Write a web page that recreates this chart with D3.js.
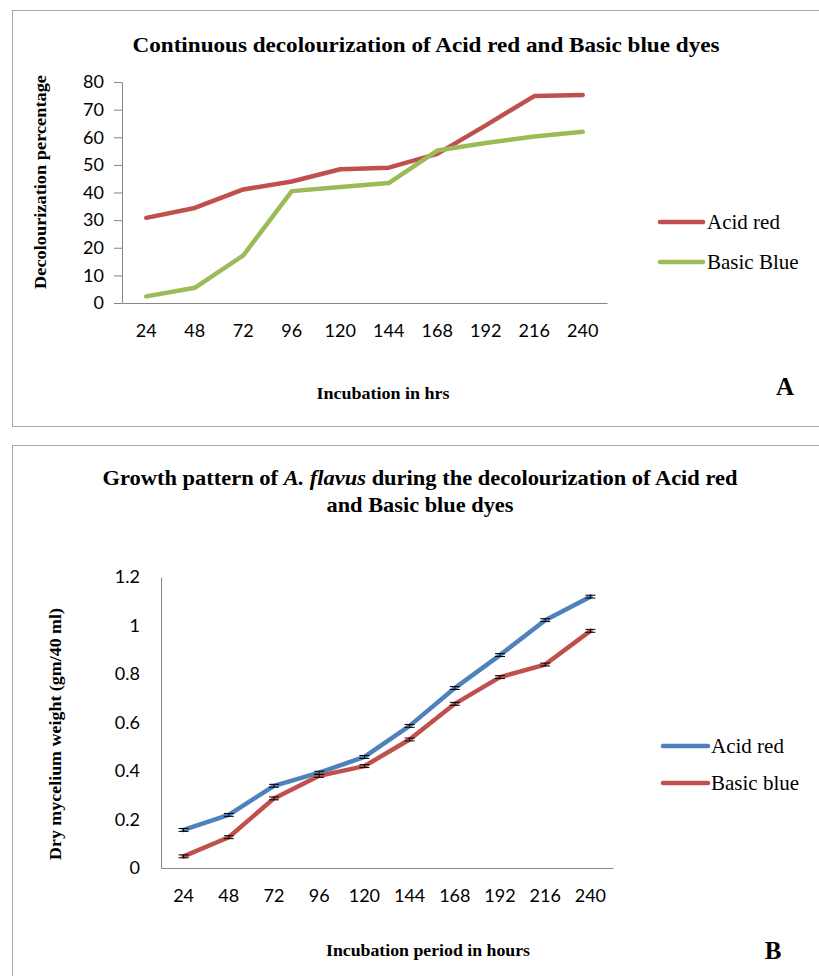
<!DOCTYPE html>
<html>
<head>
<meta charset="utf-8">
<script src="https://cdn.jsdelivr.net/npm/d3@7/dist/d3.min.js"></script>
<style>
  html, body { margin: 0; padding: 0; background: #fff; }
  svg { display: block; }
</style>
</head>
<body>
<svg id="chart" width="819" height="976"></svg>
<script>
// ---------- DATA ----------
const hours = ["24", "48", "72", "96", "120", "144", "168", "192", "216", "240"];

// Panel A: decolourization percentage
const acidRedDecol = [30.8, 34.4, 41.1, 44.0, 48.4, 49.0, 54.0, 64.3, 74.9, 75.3];
const basicBlueDecol = [2.4, 5.5, 17.2, 40.5, 42.0, 43.4, 55.2, 57.9, 60.3, 62.0];
const ticksA = [0, 10, 20, 30, 40, 50, 60, 70, 80];

// Panel B: dry mycelium weight (gm/40 ml)
const acidRedGrowth = [0.157, 0.219, 0.339, 0.393, 0.458, 0.586, 0.742, 0.878, 1.022, 1.119];
const basicBlueGrowth = [0.048, 0.127, 0.287, 0.380, 0.420, 0.530, 0.677, 0.787, 0.839, 0.978];
const acidRedErr = [0.006, 0.006, 0.006, 0.006, 0.006, 0.006, 0.006, 0.006, 0.006, 0.006];
const basicBlueErr = [0.006, 0.006, 0.006, 0.006, 0.006, 0.006, 0.006, 0.006, 0.006, 0.006];
const ticksB = [0, 0.2, 0.4, 0.6, 0.8, 1, 1.2];

// ---------- STYLE ----------
const RED = "#C0504D", GREEN = "#9BBB59", BLUE = "#4F81BD";
const AXIS = "#868686";
const TICKFONT = "Lato, 'Open Sans', sans-serif";
const SERIF = "'Liberation Serif', 'Times New Roman', serif";

const svg = d3.select("#chart");

// panel frames
svg.append("rect").attr("x", 12.5).attr("y", 10.5).attr("width", 830).attr("height", 416)
  .attr("fill", "none").attr("stroke", "#a6a6a6").attr("stroke-width", 1);
svg.append("rect").attr("x", 12.5).attr("y", 445.5).attr("width", 830).attr("height", 560)
  .attr("fill", "none").attr("stroke", "#a6a6a6").attr("stroke-width", 1);

function addText(x, y, str, opts) {
  const t = svg.append("text").attr("x", x).attr("y", y)
    .attr("font-family", opts.family || SERIF)
    .attr("font-size", opts.size)
    .attr("font-weight", opts.weight || "normal")
    .attr("text-anchor", opts.anchor || "middle")
    .attr("dominant-baseline", "central")
    .attr("fill", opts.fill || "#000")
    .text(str);
  if (opts.len) t.attr("textLength", opts.len).attr("lengthAdjust", "spacingAndGlyphs");
  if (opts.rotate) t.attr("transform", `rotate(-90 ${x} ${y})`);
  return t;
}

// ================= PANEL A =================
const xA = d3.scaleBand().domain(hours).range([122, 607]);
const yA = d3.scaleLinear().domain([0, 80]).range([303, 82]);

const yAxisA = svg.append("g").attr("transform", "translate(122,0)")
  .call(d3.axisLeft(yA).tickValues(ticksA).tickSize(8).tickPadding(10).tickSizeOuter(0));
yAxisA.select(".domain").attr("stroke", AXIS);
yAxisA.selectAll(".tick line").attr("stroke", AXIS);
yAxisA.selectAll("text").attr("font-family", TICKFONT).attr("font-size", 18).attr("fill", "#000");

const xAxisA = svg.append("g").attr("transform", "translate(0,303)")
  .call(d3.axisBottom(xA).tickSize(0).tickPadding(21).tickSizeOuter(0));
xAxisA.select(".domain").attr("stroke", AXIS);
xAxisA.selectAll("text").attr("font-family", TICKFONT).attr("font-size", 18).attr("fill", "#000");

const lineA = d3.line().x((d, i) => xA(hours[i]) + xA.bandwidth() / 2).y(d => yA(d));
svg.append("path").datum(acidRedDecol).attr("d", lineA)
  .attr("fill", "none").attr("stroke", RED).attr("stroke-width", 4.5)
  .attr("stroke-linejoin", "round").attr("stroke-linecap", "round");
svg.append("path").datum(basicBlueDecol).attr("d", lineA)
  .attr("fill", "none").attr("stroke", GREEN).attr("stroke-width", 4.5)
  .attr("stroke-linejoin", "round").attr("stroke-linecap", "round");

addText(426, 45, "Continuous decolourization of Acid red and Basic blue dyes", {size: 21, weight: "bold", len: 587});
addText(40, 182, "Decolourization percentage", {size: 17, weight: "bold", rotate: true, len: 214});
addText(383, 393, "Incubation in hrs", {size: 17, weight: "bold", len: 133});
addText(785, 386, "A", {size: 25, weight: "bold"});

// legend A
const legA = [{name: "Acid red", color: RED, y: 222}, {name: "Basic Blue", color: GREEN, y: 262}];
legA.forEach(l => {
  svg.append("line").attr("x1", 660).attr("x2", 703).attr("y1", l.y).attr("y2", l.y)
    .attr("stroke", l.color).attr("stroke-width", 4.5).attr("stroke-linecap", "round");
  addText(707, l.y, l.name, {size: 21, anchor: "start"});
});

// ================= PANEL B =================
const xB = d3.scaleBand().domain(hours).range([161, 613]);
const yB = d3.scaleLinear().domain([0, 1.2]).range([868, 577]);

const yAxisB = svg.append("g").attr("transform", "translate(161,0)")
  .call(d3.axisLeft(yB).tickValues(ticksB).tickSize(0).tickPadding(21).tickSizeOuter(0)
    .tickFormat(d => String(+d.toFixed(1))));
yAxisB.select(".domain").attr("stroke", AXIS);
yAxisB.selectAll("text").attr("font-family", TICKFONT).attr("font-size", 18).attr("fill", "#000");

const xAxisB = svg.append("g").attr("transform", "translate(0,868)")
  .call(d3.axisBottom(xB).tickSize(0).tickPadding(21).tickSizeOuter(0));
xAxisB.select(".domain").attr("stroke", AXIS);
xAxisB.selectAll("text").attr("font-family", TICKFONT).attr("font-size", 18).attr("fill", "#000");

const cx = i => xB(hours[i]) + xB.bandwidth() / 2;
const lineB = d3.line().x((d, i) => cx(i)).y(d => yB(d));

function drawSeriesB(vals, errs, color) {
  svg.append("path").datum(vals).attr("d", lineB)
    .attr("fill", "none").attr("stroke", color).attr("stroke-width", 4.5)
    .attr("stroke-linejoin", "round").attr("stroke-linecap", "round");
  const g = svg.append("g").attr("stroke", "#000").attr("stroke-width", 1);
  vals.forEach((v, i) => {
    const x = cx(i), y1 = yB(v + errs[i]), y2 = yB(v - errs[i]);
    g.append("line").attr("x1", x).attr("x2", x).attr("y1", y1).attr("y2", y2);
    g.append("line").attr("x1", x - 5).attr("x2", x + 5).attr("y1", y1).attr("y2", y1);
    g.append("line").attr("x1", x - 5).attr("x2", x + 5).attr("y1", y2).attr("y2", y2);
  });
}
drawSeriesB(acidRedGrowth, acidRedErr, BLUE);
drawSeriesB(basicBlueGrowth, basicBlueErr, RED);

// titles B
const t1 = svg.append("text").attr("x", 420).attr("y", 478)
  .attr("font-family", SERIF).attr("font-size", 21).attr("font-weight", "bold")
  .attr("text-anchor", "middle").attr("dominant-baseline", "central")
  .attr("textLength", 635).attr("lengthAdjust", "spacingAndGlyphs");
t1.append("tspan").text("Growth pattern of ");
t1.append("tspan").attr("font-style", "italic").text("A. flavus");
t1.append("tspan").text(" during the decolourization of Acid red");
addText(420, 505, "and Basic blue dyes", {size: 21, weight: "bold", len: 187});

addText(55, 734, "Dry mycelium weight (gm/40 ml)", {size: 17, weight: "bold", rotate: true, len: 252});
addText(428, 950, "Incubation period in hours", {size: 17, weight: "bold", len: 204});
addText(773, 950, "B", {size: 25, weight: "bold"});

// legend B
const legB = [{name: "Acid red", color: BLUE, y: 746}, {name: "Basic blue", color: RED, y: 783}];
legB.forEach(l => {
  svg.append("line").attr("x1", 663).attr("x2", 708).attr("y1", l.y).attr("y2", l.y)
    .attr("stroke", l.color).attr("stroke-width", 4.5).attr("stroke-linecap", "round");
  addText(711, l.y, l.name, {size: 21, anchor: "start"});
});
</script>
</body>
</html>
